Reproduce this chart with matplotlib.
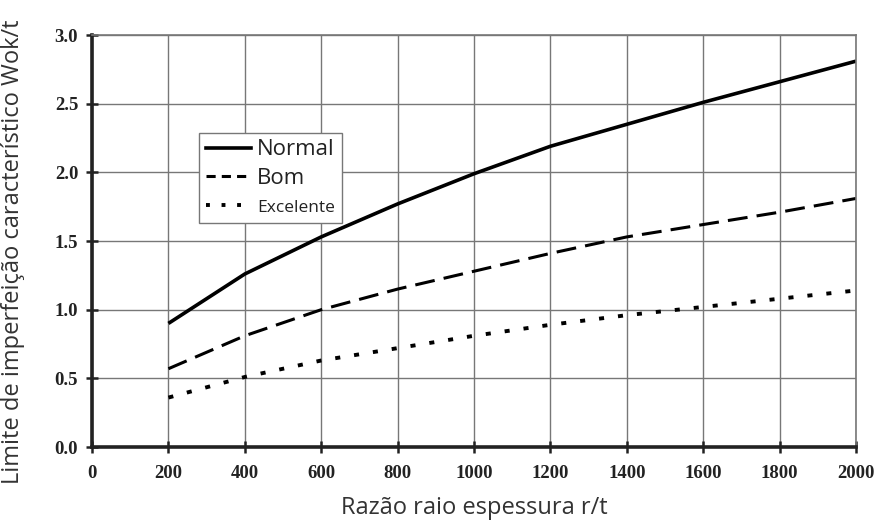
import matplotlib
matplotlib.use("Agg")
import matplotlib.pyplot as plt
from matplotlib.lines import Line2D

ratio = [200, 400, 600, 800, 1000, 1200, 1400, 1600, 1800, 2000]
normal = [0.90, 1.26, 1.53, 1.77, 1.99, 2.19, 2.35, 2.51, 2.66, 2.81]
bom = [0.57, 0.81, 1.00, 1.15, 1.28, 1.41, 1.53, 1.62, 1.71, 1.81]
excelente = [0.36, 0.51, 0.63, 0.72, 0.81, 0.89, 0.96, 1.02, 1.08, 1.14]
xticks = [0, 200, 400, 600, 800, 1000, 1200, 1400, 1600, 1800, 2000]
yticks = [0.0, 0.5, 1.0, 1.5, 2.0, 2.5, 3.0]
labels = ["Normal", "Bom", "Excelente"]

fig = plt.figure(figsize=(8.78, 5.23), dpi=100)
ax = fig.add_axes([0.1048, 0.1453, 0.8702, 0.7877])

ax.plot(ratio, normal, color="black", lw=2.6, solid_capstyle="butt")
ax.plot(ratio, bom, color="black", lw=2.2, dashes=(6.5, 3))
ax.plot(ratio, excelente, color="black", lw=2.8, dashes=(1.3, 3.6))

ax.set_xlim(0, 2000)
ax.set_ylim(0, 3.0)
ax.set_xticks(xticks)
ax.set_yticks(yticks)
ax.set_xticklabels([str(v) for v in xticks], fontfamily="Liberation Serif",
                   fontweight="bold", fontsize=13.5, color="#222222")
ax.set_yticklabels([f"{v:.1f}" for v in yticks], fontfamily="Liberation Serif",
                   fontweight="bold", fontsize=13.5, color="#222222")
ax.tick_params(axis="x", direction="inout", length=8, width=1.8, color="#222222", pad=9)
ax.tick_params(axis="y", direction="inout", length=8, width=1.8, color="#222222", pad=6)
ax.grid(True, color="#777777", lw=1.0)
ax.set_axisbelow(True)
for s in ["left", "bottom"]:
    ax.spines[s].set_linewidth(2.6)
    ax.spines[s].set_color("#222222")
for s in ["right", "top"]:
    ax.spines[s].set_linewidth(1.2)
    ax.spines[s].set_color("#777777")

ax.set_xlabel("Razão raio espessura r/t", fontfamily="Open Sans", fontsize=17,
              color="#333333", labelpad=10)
ax.set_ylabel("Limite de imperfeição característico Wok/t", fontfamily="Open Sans",
              fontsize=17, color="#333333")
ax.yaxis.set_label_coords(-0.088, 0.473)

handles = [
    Line2D([], [], color="black", lw=2.6),
    Line2D([], [], color="black", lw=2.2, dashes=(3, 2)),
    Line2D([], [], color="black", lw=2.8, dashes=(1, 3)),
]
leg = ax.legend(handles, labels, loc="upper left", bbox_to_anchor=(0.126, 0.79),
                frameon=True, fancybox=False, edgecolor="#777777", framealpha=1,
                handlelength=2.0, handletextpad=0.3, borderpad=0.3, labelspacing=0.35,
                prop={"family": "Open Sans", "size": 16})
leg.get_frame().set_linewidth(1.0)
sizes = [16, 16, 12.5]
for t, s in zip(leg.get_texts(), sizes):
    t.set_fontsize(s)
    t.set_color("#222222")

fig.savefig("out.png", dpi=100)
